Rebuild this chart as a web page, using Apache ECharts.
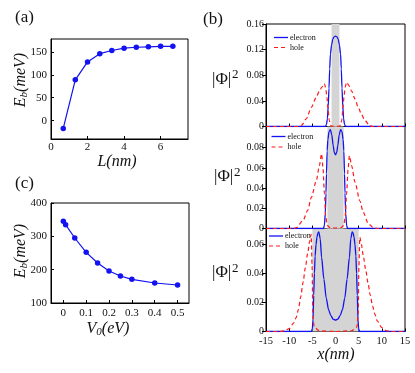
<!DOCTYPE html>
<html><head><meta charset="utf-8">
<script src="https://cdn.jsdelivr.net/npm/echarts@6/dist/echarts.min.js"></script>
<style>html,body{margin:0;padding:0;background:#fff}#c{width:415px;height:373px}</style>
</head><body><div id="c"></div>
<script>
// ---- Panel (a): binding energy vs L ----
const aL  = [0.67, 1.33, 2, 2.67, 3.33, 4, 4.67, 5.33, 6, 6.67];
const aEb = [-17, 89, 128, 146, 153, 158, 160, 161, 162, 162];
const aXTicks = [0, 2, 4, 6];
const aYTicks = [0, 50, 100, 150];

// ---- Panel (c): binding energy vs V0 ----
const cV0 = [0, 0.01, 0.05, 0.1, 0.15, 0.2, 0.25, 0.3, 0.4, 0.5];
const cEb = [345, 335, 295, 252, 220, 196, 181, 171, 160, 154];
const cXTicks = [0, 0.1, 0.2, 0.3, 0.4, 0.5];
const cYTicks = [100, 200, 300, 400];

// ---- Panel (b): wavefunctions |Phi|^2 ----
const wellHalf = [0.85, 1.75, 5];

const topEx = [-15,-2.2,-1.95,-1.75,-1.58,-1.4,-1.25,-1.1,-0.85,-0.6,-0.3,0,0.3,0.6,0.85,1.1,1.25,1.4,1.58,1.75,1.95,2.2,15];
const topEy = [0,0,0.003,0.012,0.031,0.060,0.090,0.113,0.127,0.136,0.140,0.141,0.140,0.136,0.127,0.113,0.090,0.060,0.031,0.012,0.003,0,0];
const topHx = [-15,-8,-7.3,-6.3,-5.2,-4.2,-3.5,-2.9,-2.4,-2.1,-1.85,-1.6,-1.35,-1.1,-0.8,0,0.8,1.1,1.35,1.6,1.85,2.1,2.4,2.9,3.5,4.2,4.9,5.6,6.3,7.3,8,15];
const topHy = [0,0,0.002,0.012,0.030,0.045,0.055,0.062,0.067,0.060,0.045,0.026,0.010,0.002,0.0005,0.0003,0.0005,0.002,0.010,0.028,0.048,0.062,0.069,0.064,0.055,0.043,0.030,0.019,0.010,0.002,0,0];

const midEx = [-15,-2.6,-2.4,-2.2,-2.05,-1.95,-1.8,-1.65,-1.4,-1.1,-0.8,-0.5,-0.25,0,0.25,0.5,0.8,1.1,1.4,1.65,1.8,1.95,2.05,2.2,2.4,2.6,15];
const midEy = [0,0,0.003,0.015,0.035,0.054,0.077,0.088,0.096,0.098,0.093,0.082,0.075,0.073,0.075,0.082,0.093,0.098,0.096,0.088,0.077,0.054,0.035,0.015,0.003,0,0];
const midHx = [-15,-9,-8.4,-7,-6,-5.2,-4.1,-3.5,-3.0,-2.7,-2.4,-2.1,-1.8,-1.2,0,1.2,1.8,2.1,2.4,2.7,3.0,3.5,4.2,5.25,6,7.05,8.1,9,15];
const midHy = [0,0,0.001,0.008,0.018,0.031,0.048,0.062,0.074,0.060,0.035,0.012,0.003,0.001,0.0005,0.001,0.003,0.012,0.035,0.058,0.072,0.062,0.046,0.0275,0.016,0.005,0.001,0,0];

const botEx = [-15,-5.2,-5.0,-4.85,-4.7,-4.55,-4.4,-4.2,-4.0,-3.8,-3.6,-3.3,-3.0,-2.5,-2.0,-1.5,-1.0,-0.5,0,0.5,1.0,1.5,2.0,2.5,3.0,3.3,3.6,3.8,4.0,4.2,4.4,4.55,4.7,4.85,5.0,5.2,15];
const botEy = [0,0,0.002,0.008,0.025,0.040,0.052,0.060,0.065,0.068,0.0687,0.064,0.051,0.036,0.023,0.015,0.011,0.0085,0.0078,0.0085,0.011,0.015,0.023,0.036,0.051,0.064,0.0687,0.068,0.065,0.060,0.052,0.040,0.025,0.008,0.002,0,0];
const botHx = [-15,-12,-11,-10,-9,-8.5,-8,-7.5,-7,-6.5,-6,-5.6,-5.25,-5.05,-4.9,-4.6,-3.5,0,3.5,4.6,4.9,5.05,5.25,5.6,6,6.5,7,7.5,8,8.5,9,10,11,12,15];
const botHy = [0,0,0.0005,0.002,0.006,0.0095,0.0153,0.024,0.034,0.044,0.054,0.062,0.067,0.045,0.012,0.003,0.0005,0,0.0005,0.003,0.012,0.045,0.065,0.060,0.052,0.043,0.0337,0.025,0.0176,0.012,0.0073,0.0027,0.0005,0,0];

const midYTicks = [0, 0.02, 0.04, 0.06, 0.08];
const botYTicks = [0, 0.02, 0.04, 0.06];
const legendNames = ['electron', 'hole'];

const zip = (xs, ys) => xs.map((x, i) => [x, ys[i]]);
const SERIF = '"Liberation Serif", "Times New Roman", serif';
const BLUE = '#1212f2', RED = '#ff1a1a', INK = '#111';

const lab = (extra) => Object.assign({color: INK, fontFamily: SERIF, fontSize: 11}, extra || {});

const chart = echarts.init(document.getElementById('c'), null, {renderer: 'canvas'});

const grids = [
  {left: 51, top: 39, width: 137, height: 100},
  {left: 51, top: 203, width: 138, height: 100},
  {left: 266, top: 24, width: 139, height: 102.5},
  {left: 266, top: 126.5, width: 139, height: 102},
  {left: 266, top: 228.5, width: 139, height: 103}
].map(g => Object.assign({show: true, borderColor: '#000', borderWidth: 1, containLabel: false}, g));

const common = {
  axisLine: {show: true, onZero: false, lineStyle: {color: '#000', width: 1}},
  splitLine: {show: false}
};
const tk = {color: '#000'};

const xAxes = [
  Object.assign({gridIndex: 0, type: 'value', min: 0, max: 7.5,
    axisTick: {inside: true, length: 3, customValues: aXTicks, lineStyle: tk},
    axisLabel: lab({margin: 3, customValues: aXTicks})}, common),
  Object.assign({gridIndex: 1, type: 'value', min: -0.054, max: 0.55,
    axisTick: {inside: true, length: 3, customValues: cXTicks, lineStyle: tk},
    axisLabel: lab({margin: 5, customValues: cXTicks})}, common),
  Object.assign({gridIndex: 2, type: 'value', min: -15, max: 15, interval: 5,
    axisTick: {inside: true, length: 3, lineStyle: tk}, axisLabel: {show: false}}, common),
  Object.assign({gridIndex: 3, type: 'value', min: -15, max: 15, interval: 5,
    axisTick: {inside: true, length: 3, lineStyle: tk}, axisLabel: {show: false}}, common),
  Object.assign({gridIndex: 4, type: 'value', min: -15, max: 15, interval: 5,
    axisTick: {inside: true, length: 3, lineStyle: tk},
    axisLabel: lab({margin: 4, fontSize: 10.5})}, common)
];

const yAxes = [
  Object.assign({gridIndex: 0, type: 'value', min: -40, max: 178,
    axisTick: {inside: true, length: 3, customValues: aYTicks, lineStyle: tk},
    axisLabel: lab({margin: 4, customValues: aYTicks})}, common),
  Object.assign({gridIndex: 1, type: 'value', min: 100, max: 400,
    axisTick: {inside: true, length: 3, customValues: cYTicks, lineStyle: tk},
    axisLabel: lab({margin: 4, customValues: cYTicks})}, common),
  Object.assign({gridIndex: 2, type: 'value', min: 0, max: 0.16, interval: 0.04,
    axisTick: {length: 4, lineStyle: tk},
    axisLabel: lab({margin: 2, fontSize: 10})}, common),
  Object.assign({gridIndex: 3, type: 'value', min: 0, max: 0.101,
    axisTick: {length: 4, customValues: midYTicks, lineStyle: tk},
    axisLabel: lab({margin: 2, fontSize: 10, customValues: midYTicks})}, common),
  Object.assign({gridIndex: 4, type: 'value', min: 0, max: 0.071,
    axisTick: {length: 4, customValues: botYTicks, lineStyle: tk},
    axisLabel: lab({margin: 2, fontSize: 10, customValues: botYTicks})}, common)
];

function pointSeries(idx, xs, ys) {
  return {type: 'line', xAxisIndex: idx, yAxisIndex: idx, data: zip(xs, ys),
    symbol: 'circle', symbolSize: 5.5, itemStyle: {color: BLUE},
    lineStyle: {color: BLUE, width: 1.2}, silent: true, animation: false};
}
function waveSeries(idx, name, xs, ys, half) {
  const s = {type: 'line', name: name, xAxisIndex: idx, yAxisIndex: idx, data: zip(xs, ys),
    showSymbol: false, symbol: 'none', smooth: 0.25, smoothMonotone: 'x', silent: true, animation: false,
    itemStyle: {color: name === 'electron' ? BLUE : RED},
    lineStyle: name === 'electron' ? {color: BLUE, width: 1.3} : {color: RED, width: 1.2, type: [4, 3]}};
  if (half !== undefined) {
    s.markArea = {silent: true, itemStyle: {color: '#d4d4d4'},
      data: [[{xAxis: -half}, {xAxis: half}]]};
    s.z = 2;
  }
  return s;
}

const series = [
  pointSeries(0, aL, aEb),
  pointSeries(1, cV0, cEb),
  waveSeries(2, 'electron', topEx, topEy, wellHalf[0]),
  waveSeries(2, 'hole', topHx, topHy),
  waveSeries(3, 'electron', midEx, midEy, wellHalf[1]),
  waveSeries(3, 'hole', midHx, midHy),
  waveSeries(4, 'electron', botEx, botEy, wellHalf[2]),
  waveSeries(4, 'hole', botHx, botHy)
];

// legend keys drawn as graphic (line-only icons)
function legendKeys(x0, y0, y1) {
  return [
    {type: 'line', shape: {x1: x0, y1: y0, x2: x0 + 14, y2: y0}, style: {stroke: BLUE, lineWidth: 1.3}},
    {type: 'text', x: x0 + 16, y: y0, style: {text: legendNames[0], font: '8px ' + SERIF, fill: INK, align: 'left', verticalAlign: 'middle'}},
    {type: 'line', shape: {x1: x0, y1: y1, x2: x0 + 14, y2: y1}, style: {stroke: RED, lineWidth: 1.2, lineDash: [4, 3]}},
    {type: 'text', x: x0 + 16, y: y1, style: {text: legendNames[1], font: '8px ' + SERIF, fill: INK, align: 'left', verticalAlign: 'middle'}}
  ];
}

const it = {fontFamily: SERIF, fontSize: 16, fontStyle: 'italic', fill: INK};
const sub = {fontFamily: SERIF, fontSize: 11, fontStyle: 'italic', fill: INK, padding: [7, 0, 0, 0]};
function axisName(x, y, main, subTxt, rest, rot) {
  return {type: 'text', x: x, y: y, rotation: rot || 0,
    style: {text: '{i|' + main + '}{s|' + subTxt + '}{i|' + rest + '}', align: 'center', verticalAlign: 'middle',
      rich: {i: it, s: sub}}};
}
function plain(x, y, t, size) {
  return {type: 'text', x: x, y: y, style: {text: t, font: size + 'px ' + SERIF, fill: INK,
    align: 'left', verticalAlign: 'top'}};
}

const graphic = [
  plain(15, 9, '(a)', 17),
  plain(203, 11, '(b)', 17),
  plain(15, 175, '(c)', 17),
  {type: 'text', x: 117, y: 162, style: {text: 'L(nm)', font: 'italic 16px ' + SERIF, fill: INK, align: 'center', verticalAlign: 'middle'}},
  axisName(21, 80, 'E', 'b', '(meV)', Math.PI / 2),
  axisName(108, 329, 'V', '0', '(eV)'),
  axisName(21, 251, 'E', 'b', '(meV)', Math.PI / 2),
  {type: 'text', x: 336, y: 355, style: {text: 'x(nm)', font: 'italic 16px ' + SERIF, fill: INK, align: 'center', verticalAlign: 'middle'}},
  plain(212, 71, '|Φ|', 17),
  plain(232, 68, '2', 13),
  plain(214, 168, '|Φ|', 17),
  plain(234, 166, '2', 13),
  plain(212, 264, '|Φ|', 17),
  plain(232, 262, '2', 13)
].concat(legendKeys(274, 37.5, 47.5), legendKeys(271.5, 136.5, 147), legendKeys(269, 236, 246));

chart.setOption({
  animation: false,
  backgroundColor: '#fff',
  grid: grids,
  xAxis: xAxes,
  yAxis: yAxes,
  series: series,
  graphic: graphic
});
</script></body></html>
